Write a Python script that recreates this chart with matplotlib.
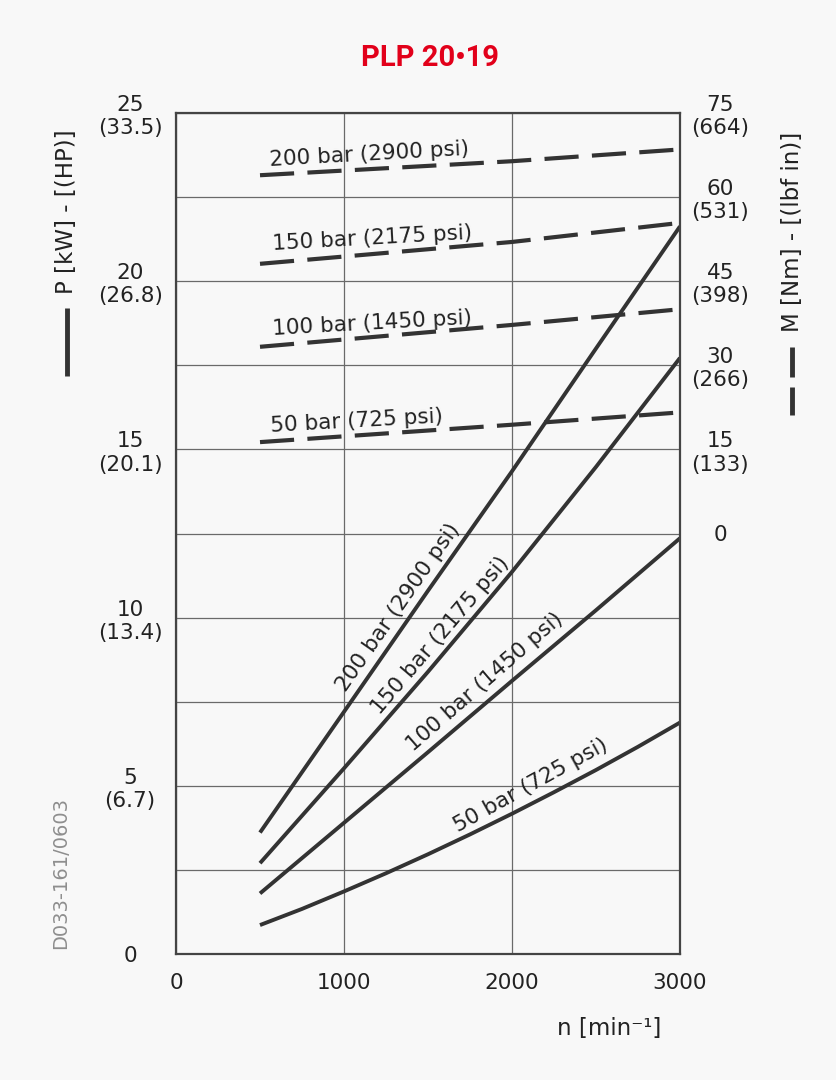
import matplotlib
matplotlib.use("Agg")
import matplotlib.pyplot as plt
from matplotlib import font_manager
from matplotlib.lines import Line2D

# ---------------- data ----------------
n_power = [500, 1000, 1500, 2000, 2500, 3000]
P_200 = [3.61, 7.2, 10.8, 14.35, 18.0, 21.63]
P_150 = [2.7, 5.52, 8.39, 11.36, 14.48, 17.72]
P_100 = [1.8, 3.9, 6.0, 8.12, 10.22, 12.36]
n_50 = [500, 750, 1000, 1250, 1500, 1750, 2000, 2250, 2500, 2750, 3000]
P_50 = [0.86, 1.34, 1.86, 2.40, 2.965, 3.555, 4.17, 4.81, 5.47, 6.16, 6.88]

n_torque = [500, 2000, 3000]
M_200 = [63.9, 66.4, 68.5]
M_150 = [48.1, 52.0, 55.4]
M_100 = [33.3, 37.2, 40.0]
M_50 = [16.3, 19.4, 21.6]

power_labels = ["200 bar (2900 psi)", "150 bar (2175 psi)", "100 bar (1450 psi)", "50 bar (725 psi)"]
torque_labels = ["200 bar (2900 psi)", "150 bar (2175 psi)", "100 bar (1450 psi)", "50 bar (725 psi)"]

x_ticks = [0, 1000, 2000, 3000]
p_ticks = [0, 5, 10, 15, 20, 25]
p_ticklabels = ["0", "5\n(6.7)", "10\n(13.4)", "15\n(20.1)", "20\n(26.8)", "25\n(33.5)"]
m_ticks = [0, 15, 30, 45, 60, 75]
m_ticklabels = ["0", "15\n(133)", "30\n(266)", "45\n(398)", "60\n(531)", "75\n(664)"]

# ---------------- style ----------------
W, H = 836, 1080
BG = "#f8f8f8"
LINE = "#333333"
GRID = "#6a6a6a"
FS = 15.5
LFS = 16.5

names = {f.name for f in font_manager.fontManager.ttflist}
if "Liberation Sans Narrow" in names:
    title_font, title_size = "Liberation Sans Narrow", 25
elif "Roboto" in names:
    title_font, title_size = "Roboto", 21
else:
    title_font, title_size = "DejaVu Sans", 18

plt.rcParams["font.family"] = ["DejaVu Sans"]

fig = plt.figure(figsize=(W / 100, H / 100), dpi=100, facecolor=BG)
ax = fig.add_axes([176 / W, 1 - 954 / H, (680 - 176) / W, (954 - 113) / H])
ax.set_facecolor(BG)

ax.set_xlim(0, 3000)
ax.set_ylim(0, 25)
ax.set_xticks(x_ticks)
ax.set_xticklabels([str(v) for v in x_ticks], fontsize=FS, color="#222222")
ax.set_yticks(p_ticks)
ax.set_yticklabels(p_ticklabels, fontsize=FS, color="#222222")
ax.set_yticks([2.5, 7.5, 12.5, 17.5, 22.5], minor=True)
for lab in ax.get_yticklabels():
    lab.set_ha("center")
    lab.set_multialignment("center")
ax.tick_params(axis="y", which="both", length=0, pad=33)
ax.tick_params(axis="x", length=0, pad=14)
ax.grid(True, which="both", color=GRID, lw=0.9)
ax.set_axisbelow(True)
for s in ax.spines.values():
    s.set_color("#444444")
    s.set_linewidth(1.6)

ax2 = ax.twinx()
ax2.set_ylim(-75, 75)
ax2.set_yticks(m_ticks)
ax2.set_yticklabels(m_ticklabels, fontsize=FS, color="#222222")
for lab in ax2.get_yticklabels():
    lab.set_ha("center")
    lab.set_multialignment("center")
ax2.tick_params(axis="y", length=0, pad=29)
for s in ax2.spines.values():
    s.set_visible(False)

# power curves (solid)
for P in (P_200, P_150, P_100):
    ax.plot(n_power, P, color=LINE, lw=2.8, solid_capstyle="butt", solid_joinstyle="round")
ax.plot(n_50, P_50, color=LINE, lw=2.8, solid_capstyle="butt", solid_joinstyle="round")

# torque curves (dashed)
for M in (M_200, M_150, M_100, M_50):
    ax2.plot(n_torque, M, color=LINE, lw=3.0, dashes=(8.2, 3.2), dash_capstyle="butt")

# curve labels (positions in pixel -> data)
def px2data(px, py):
    return (px - 176) / 504 * 3000, (954 - py) / 841 * 25

plab = [((398, 607), 55), ((440, 635), 49.5), ((485, 682), 41), ((531, 785), 29)]
for txt, ((px, py), rot) in zip(power_labels, plab):
    x, y = px2data(px, py)
    ax.text(x, y, txt, rotation=rot, rotation_mode="anchor", ha="center", va="center",
            fontsize=FS, color="#222222")

tlab = [(369, 154), (372, 238), (372, 323), (357, 421)]
for txt, (px, py) in zip(torque_labels, tlab):
    x, y = px2data(px, py)
    ax.text(x, y, txt, rotation=3.2, rotation_mode="anchor", ha="center", va="center",
            fontsize=FS, color="#222222")

# figure texts
def fx(px):
    return px / W

def fy(py):
    return 1 - py / H

fig.text(fx(430), fy(58), "PLP 20•19", family=[title_font, "DejaVu Sans"], weight="bold",
         fontsize=title_size, color="#e2001a", ha="center", va="center")

fig.text(fx(67), fy(212), "P [kW] - [(HP)]", rotation=90, ha="center", va="center",
         fontsize=LFS, color="#222222")
fig.add_artist(Line2D([fx(67), fx(67)], [fy(308), fy(376)], color=LINE, lw=3.5,
                      transform=fig.transFigure, solid_capstyle="butt"))

fig.text(fx(792), fy(232), "M [Nm] - [(lbf in)]", rotation=90, ha="center", va="center",
         fontsize=LFS, color="#222222")
fig.add_artist(Line2D([fx(792), fx(792)], [fy(347), fy(377)], color=LINE, lw=3.5,
                      transform=fig.transFigure, solid_capstyle="butt"))
fig.add_artist(Line2D([fx(792), fx(792)], [fy(387), fy(415)], color=LINE, lw=3.5,
                      transform=fig.transFigure, solid_capstyle="butt"))

fig.text(fx(609), fy(1029), "n [min⁻¹]", ha="center", va="center", fontsize=LFS, color="#222222")

fig.text(fx(61), fy(873), "D033-161/0603", rotation=90, ha="center", va="center",
         fontsize=14, color="#8e8e8e")

fig.savefig("out.png", dpi=100, facecolor=BG)
